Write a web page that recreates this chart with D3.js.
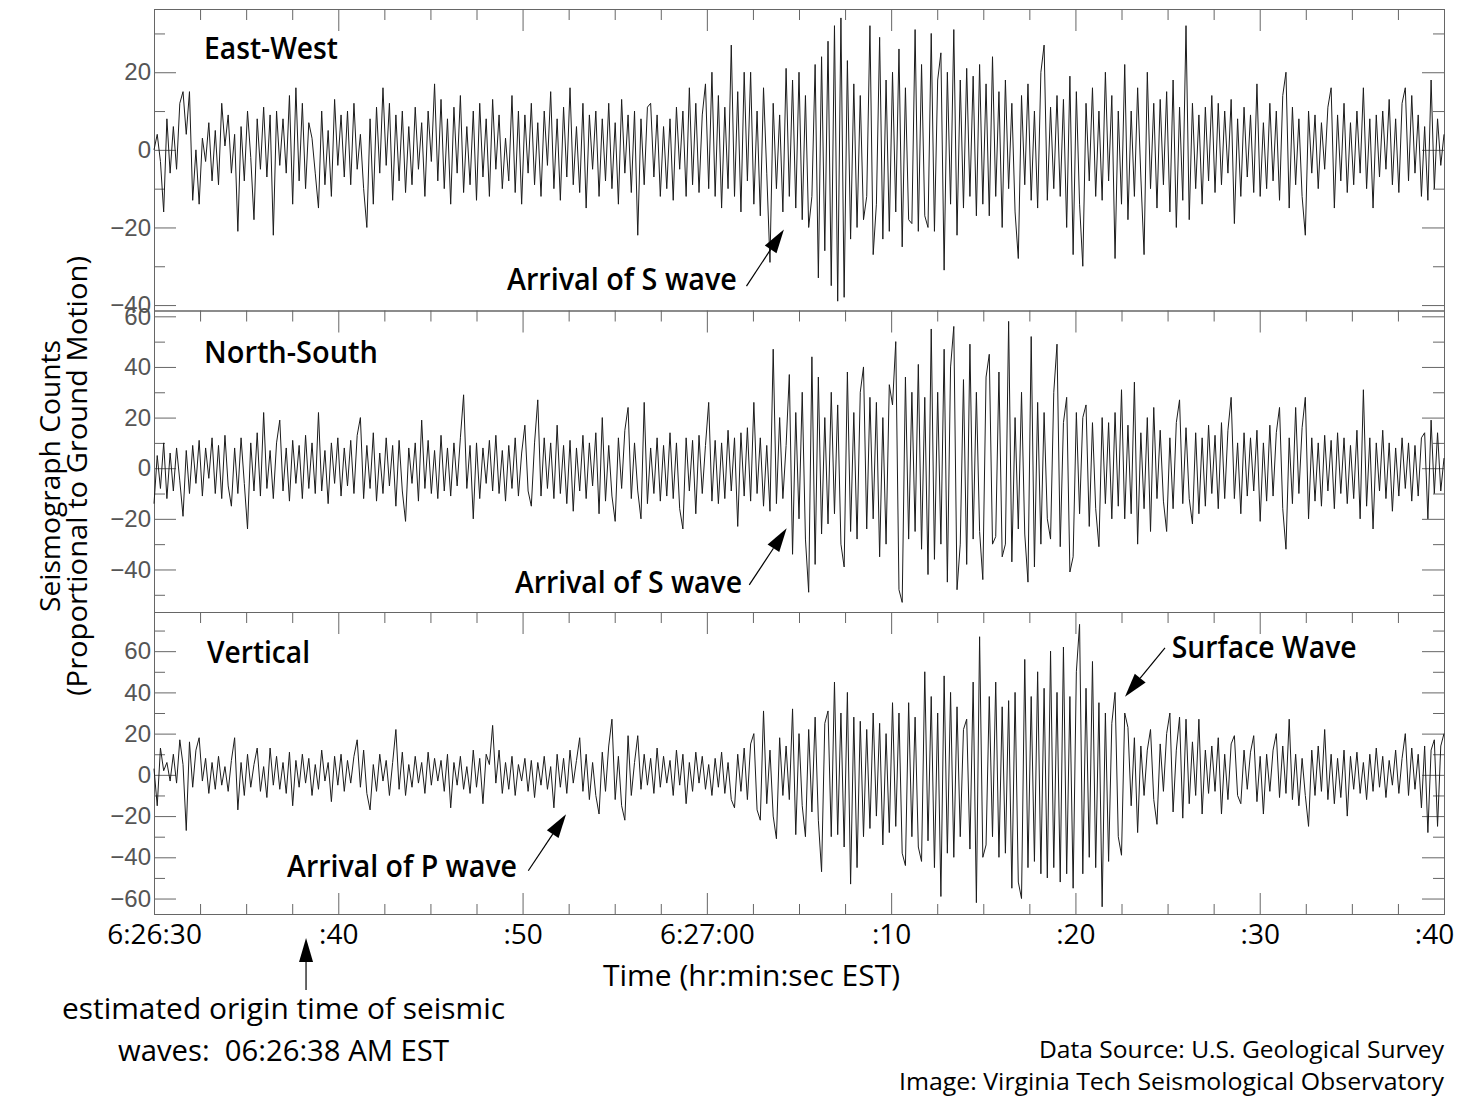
<!DOCTYPE html>
<html>
<head>
<meta charset="utf-8">
<script src="https://cdn.jsdelivr.net/npm/d3@7"></script>
<style>
body { margin: 0; background: #fff; }
svg { display: block; background: #fff; }
.ylab text { font-family: "Liberation Sans Narrow", "Liberation Sans", sans-serif; font-size: 24px; fill: #555; }
.xlab text { font-family: "Open Sans", sans-serif; font-size: 28px; font-weight: 500; fill: #000; }
.note { font-family: "Open Sans", sans-serif; font-weight: 600; fill: #000; }
.plain { font-family: "Open Sans", sans-serif; fill: #000; }
</style>
</head>
<body>
<svg id="chart" width="1467" height="1097"></svg>
<script>
// seconds after 6:26:30 EST
var timeTicks = [0, 10, 20, 30, 40, 50, 60, 70];
var timeLabels = ["6:26:30", ":40", ":50", "6:27:00", ":10", ":20", ":30", ":40"];
var sampleStep = 0.175;   // s between samples

var panelNames = ["East-West", "North-South", "Vertical"];
var yDomains = [[-41.4, 36.3], [-56.8, 62.3], [-67.5, 79]];
var yMajor = [[-40, -20, 0, 20], [-40, -20, 0, 20, 40, 60], [-60, -40, -20, 0, 20, 40, 60]];
var yMinor = [[-30, -10, 10, 30], [-50, -30, -10, 10, 30, 50], [-50, -30, -10, 10, 30, 50, 70]];

var eastWest = [
0,4,-3,-16,8,-6,6,-5,12,15,4,15,-13,0,-14,3,-3,7,-8,5,
-9,12,1,9,-6,4,-21,6,-8,10,-2,-18,8,-5,11,-7,9,-22,10,-4,
8,-6,14,-14,16,-8,12,-10,7,3,-6,-15,10,-9,5,-12,13,-4,9,-7,
10,-9,12,-5,4,-10,-20,8,-14,11,-6,16,-4,12,-13,9,-8,10,-11,6,
-9,11,-5,7,-12,10,-3,17,-8,13,-10,8,-14,11,-6,14,-11,6,-9,10,
-13,12,-7,8,-12,13,-5,9,-10,3,-8,14,-11,10,-14,9,-6,12,-9,7,
-12,10,-4,15,-10,8,-13,11,-7,16,-9,6,-11,12,-15,9,-5,10,-12,8,
-8,12,-10,7,-14,13,-6,9,-11,10,-22,8,-9,11,12,-7,9,-12,6,-10,
8,-13,11,-5,10,-12,16,-9,12,-11,9,17,-10,20,-12,14,-15,11,-10,27,
-12,15,-16,20,-8,20,-14,10,-17,16,-6,-29,12,-10,9,-16,21,-12,18,-15,
20,-18,14,-20,-12,22,-33,24,-26,28,-35,32,-39,34,-38,23,-23,17,-20,14,
-18,-12,32,-27,-14,29,-23,18,-21,20,-16,26,-25,16,-18,-19,31,-21,22,-17,
-20,30,-21,18,25,-31,20,-14,31,-22,18,-15,21,-12,19,-17,22,-14,17,-17,
24,-12,15,-20,18,-10,12,-16,-28,14,-9,17,-13,10,-15,20,27,-13,11,-10,
14,-12,13,-20,19,-27,15,-14,-30,12,-8,16,-12,10,-13,20,-8,14,-28,10,
-14,22,-18,10,-12,16,-7,-27,20,-10,12,-15,13,-9,15,-16,18,-20,11,-13,
32,-18,12,-10,9,-14,11,-8,14,-11,12,-9,10,-6,13,-19,8,-12,11,-7,
9,-11,17,-12,7,-10,12,-8,10,-13,14,20,-15,11,-9,8,-12,-22,10,-6,
9,-10,7,-5,11,16,-15,9,-8,12,-11,7,-9,10,-6,16,-10,8,-15,9,
-7,10,-5,13,-9,8,-11,12,16,-8,14,-6,9,-12,6,-13,18,-10,8,-4,
4];

var northSouth = [
-14,5,-8,10,-12,6,-9,8,-5,-19,7,-10,9,-6,11,-11,8,-4,12,-10,
9,-12,13,-7,-15,8,-10,12,-6,-24,10,-9,14,-11,22,-8,7,-12,10,19,
-9,8,-13,11,-6,9,-12,13,-8,10,-10,22,-9,7,-14,10,-6,12,-11,8,
-7,11,-10,13,20,-12,9,-8,14,-13,6,-10,12,-7,9,-15,11,-9,-21,8,
-6,10,-13,19,-8,11,-10,7,-12,13,-9,8,-11,10,-7,12,29,-8,9,-20,
10,-12,8,-6,11,-9,13,-10,7,-13,9,-8,12,-11,6,17,-9,-15,10,27,
-11,12,-8,10,-12,17,-10,9,-14,11,-17,8,-9,13,-12,10,-7,14,-18,20,
-13,9,-11,-21,12,-8,15,24,-12,10,-9,-20,26,-14,8,-10,12,-13,9,-11,
14,-12,10,-16,-24,12,-9,11,-18,13,-10,9,26,-13,11,-14,10,-12,15,-9,
12,-23,14,-11,16,-13,26,-10,12,-15,9,-17,47,-14,20,-12,9,37,-34,22,
-20,30,-28,-49,44,-38,36,-26,20,-22,30,-18,25,-30,-39,38,-25,22,-28,30,
40,-24,28,-20,26,-35,20,-30,33,25,50,-48,-53,36,-28,30,-25,41,-32,28,
-42,55,-36,30,-30,47,-45,40,56,-48,-30,35,-38,49,-28,30,-25,-44,36,45,
-30,-27,38,-35,-30,58,-37,20,-24,30,-26,-45,52,-39,26,-30,22,-20,-28,30,
49,-31,18,28,-41,-35,22,-18,20,25,-23,18,-16,-31,20,-14,18,-20,22,-15,
31,-20,17,-18,34,-30,14,-16,20,-25,24,-12,15,-13,-25,12,-16,18,27,-14,
16,-12,-22,14,-18,12,-15,17,-10,13,-16,18,-12,15,28,-12,10,-18,14,-11,
12,-9,15,-21,10,-13,17,-11,14,24,-16,-32,12,-14,24,-10,16,28,-20,12,
-13,10,-15,13,-9,11,-16,14,-10,12,-14,9,-12,15,-20,31,-15,12,-24,10,
-9,15,-12,10,-17,8,-11,12,-8,10,-13,9,-11,12,14,-20,19,-10,14,-9,
4];

var vertical = [
3,-15,13,2,6,-3,10,-4,17,5,-27,16,-6,12,18,-3,8,-9,6,-7,
9,-5,4,-8,7,18,-17,6,-10,10,-6,5,13,-8,4,-11,13,-5,9,-7,
6,-9,11,-15,7,-6,10,-4,8,-10,5,-7,12,-3,6,-13,9,-5,10,-8,
7,-4,9,17,-6,12,-9,-17,5,-8,10,-3,7,-10,6,22,-7,11,-10,5,
-6,9,-4,6,-9,11,-5,8,-3,7,-8,10,-16,6,-5,9,-7,4,-9,12,
-6,8,-14,10,5,24,-4,12,-9,6,-7,9,-10,5,-3,8,-8,7,-11,6,
-5,9,-7,4,-16,10,-6,8,-9,12,-4,7,18,-8,10,-12,6,-10,-19,11,
-8,14,27,-12,9,-15,-22,19,-10,6,19,-7,10,-5,8,-9,13,-6,9,-4,
7,-10,12,-5,10,-14,6,-8,11,-4,9,-7,5,-10,8,-6,11,-9,6,-12,
-16,10,-8,13,-12,15,20,-17,-22,31,-14,12,-20,-31,18,-10,14,-12,32,-29,
20,-15,-30,22,-18,28,-22,-47,25,31,-30,45,-29,30,-35,40,-53,28,-45,26,
-30,22,-26,30,-20,25,-34,20,-28,35,-25,30,-38,-44,35,-30,28,-35,-42,50,
-32,38,-45,30,-59,48,-38,40,-40,33,-30,22,27,-36,45,-62,67,-40,-34,38,
-30,45,-40,33,-38,36,-55,40,-52,-60,56,-45,38,-42,50,-48,42,-50,60,-45,
40,-52,62,-48,38,-55,50,73,-48,42,-40,55,-45,35,-64,30,-42,25,40,-30,
-39,30,23,-15,18,-28,14,-10,12,22,-12,-24,15,-8,20,30,-18,12,28,-21,
27,-14,16,-10,27,-19,12,-9,14,-8,18,-19,10,-12,15,19,-10,-14,12,-7,
11,19,-13,9,-19,10,-8,12,20,-11,14,-9,27,-12,10,-15,8,-10,-25,12,
-10,14,-8,22,-12,10,-14,8,-11,12,-20,9,-7,11,-9,6,-12,10,-8,13,
-6,9,-11,7,-5,12,-9,8,20,-10,13,-7,10,-16,14,-28,12,17,-25,14,
20];

var traces = [eastWest, northSouth, vertical];

// annotation text position and arrow (time in s, value in counts)
var notes = [
  {panel: 0, text: "Arrival of S wave", t: 19.15, v: -36.2, len: 230, from: [32.15, -35.1], to: [34.18, -20.5]},
  {panel: 1, text: "Arrival of S wave", t: 19.59, v: -49.2, len: 227, from: [32.3, -46.1], to: [34.33, -23.7]},
  {panel: 2, text: "Arrival of P wave", t: 7.22, v: -49.4, len: 230, from: [20.31, -46.5], to: [22.36, -19.1]},
  {panel: 2, text: "Surface Wave", t: 55.22, v: 56.6, len: 185, from: [54.86, 61.6], to: [52.69, 37.9]}
];
var originTime = 8.25;

var svg = d3.select("#chart");
var left = 154, right = 1444;
var panelTop = [9, 310.5, 612];
var panelBottom = [310.5, 612, 914];
var axisColor = "#666";

var x = d3.scaleLinear().domain([timeTicks[0], timeTicks[timeTicks.length - 1]]).range([left, right]);
var minorTime = d3.range(timeTicks[0], timeTicks[timeTicks.length - 1] + 0.01, 2.5).filter(function(d){ return d % 10 != 0; });
var yScales = [];

function styleAxis(g){
  g.select(".domain").remove();
  g.selectAll("line").attr("stroke", axisColor).attr("stroke-width", 1);
}

function arrow(x1, y1, x2, y2){
  var dx = x2 - x1, dy = y2 - y1, L = Math.sqrt(dx*dx + dy*dy);
  var ux = dx / L, uy = dy / L, head = 24, half = 7;
  var bx = x2 - ux*head, by = y2 - uy*head;
  svg.append("line").attr("x1", x1).attr("y1", y1).attr("x2", bx).attr("y2", by)
    .attr("stroke", "#000").attr("stroke-width", 1.2);
  svg.append("path")
    .attr("d", "M" + x2 + "," + y2 + "L" + (bx - uy*half) + "," + (by + ux*half) + "L" + (bx + uy*half) + "," + (by - ux*half) + "Z")
    .attr("fill", "#000");
}

for (var p = 0; p < 3; p++) {
  var y = d3.scaleLinear().domain(yDomains[p]).range([panelBottom[p], panelTop[p]]);
  yScales.push(y);
  var g = svg.append("g");

  g.append("rect").attr("x", left + 0.5).attr("y", panelTop[p] + 0.5)
    .attr("width", right - left).attr("height", panelBottom[p] - panelTop[p])
    .attr("fill", "none").attr("stroke", axisColor).attr("stroke-width", 1);

  g.append("g").attr("class", "ylab").attr("transform", "translate(" + left + ",0)")
    .call(d3.axisLeft(y).tickValues(yMajor[p]).tickSizeInner(-22).tickSizeOuter(0).tickPadding(3).tickFormat(d3.format("d")))
    .call(styleAxis);
  g.append("g").attr("transform", "translate(" + left + ",0)")
    .call(d3.axisLeft(y).tickValues(yMinor[p]).tickSizeInner(-11).tickSizeOuter(0).tickFormat(""))
    .call(styleAxis);
  g.append("g").attr("transform", "translate(" + right + ",0)")
    .call(d3.axisRight(y).tickValues(yMajor[p]).tickSizeInner(-22).tickSizeOuter(0).tickFormat(""))
    .call(styleAxis);
  g.append("g").attr("transform", "translate(" + right + ",0)")
    .call(d3.axisRight(y).tickValues(yMinor[p]).tickSizeInner(-11).tickSizeOuter(0).tickFormat(""))
    .call(styleAxis);

  g.append("g").attr("transform", "translate(0," + panelTop[p] + ")")
    .call(d3.axisBottom(x).tickValues(timeTicks).tickSizeInner(22).tickSizeOuter(0).tickFormat(""))
    .call(styleAxis);
  g.append("g").attr("transform", "translate(0," + panelTop[p] + ")")
    .call(d3.axisBottom(x).tickValues(minorTime).tickSizeInner(11).tickSizeOuter(0).tickFormat(""))
    .call(styleAxis);

  var line = d3.line()
    .x(function(d, i){ return x(i * sampleStep); })
    .y(function(d){ return y(d); });
  g.append("path").datum(traces[p])
    .attr("d", line)
    .attr("fill", "none")
    .attr("stroke", "#1c1c1c")
    .attr("stroke-width", 1)
    .attr("stroke-linejoin", "miter");
}

// panel names
var nameX = [204, 204, 207], nameY = [59, 363, 663], nameLen = [134, 174, 103];
for (var k = 0; k < 3; k++) {
  svg.append("text").attr("class", "note").attr("x", nameX[k]).attr("y", nameY[k])
    .attr("font-size", 30).attr("textLength", nameLen[k]).attr("lengthAdjust", "spacingAndGlyphs")
    .text(panelNames[k]);
}

// bottom time axis
var bottom = svg.append("g").attr("class", "xlab").attr("transform", "translate(0," + panelBottom[2] + ")")
  .call(d3.axisBottom(x).tickValues(timeTicks).tickSizeInner(-21).tickSizeOuter(0).tickPadding(10)
    .tickFormat(function(d, i){ return timeLabels[i]; }))
  .call(styleAxis);
bottom.selectAll("text").filter(function(d, i){ return i == timeTicks.length - 1; }).attr("dx", -10);
svg.append("g").attr("transform", "translate(0," + panelBottom[2] + ")")
  .call(d3.axisBottom(x).tickValues(minorTime).tickSizeInner(-10).tickSizeOuter(0).tickFormat(""))
  .call(styleAxis);

svg.append("text").attr("class", "plain").attr("x", 603).attr("y", 986)
  .attr("font-size", 29).attr("font-weight", 500).attr("textLength", 297).attr("lengthAdjust", "spacingAndGlyphs")
  .text("Time (hr:min:sec EST)");

// y title
var ty = svg.append("g").attr("transform", "translate(60,476) rotate(-90)");
ty.append("text").attr("class", "plain").attr("text-anchor", "middle").attr("font-size", 28).attr("font-weight", 500)
  .attr("textLength", 272).attr("lengthAdjust", "spacingAndGlyphs").text("Seismograph Counts");
ty.append("text").attr("class", "plain").attr("text-anchor", "middle").attr("font-size", 28).attr("font-weight", 500)
  .attr("y", 27).attr("textLength", 440).attr("lengthAdjust", "spacingAndGlyphs").text("(Proportional to Ground Motion)");

// annotations
notes.forEach(function(n){
  var y = yScales[n.panel];
  svg.append("text").attr("class", "note").attr("x", x(n.t)).attr("y", y(n.v))
    .attr("font-size", 30).attr("textLength", n.len).attr("lengthAdjust", "spacingAndGlyphs")
    .text(n.text);
  arrow(x(n.from[0]), y(n.from[1]), x(n.to[0]), y(n.to[1]));
});

// origin time marker
arrow(x(originTime), 990, x(originTime), 938);
svg.append("text").attr("class", "plain").attr("x", 62).attr("y", 1019)
  .attr("font-size", 29).attr("font-weight", 500).attr("textLength", 443).attr("lengthAdjust", "spacingAndGlyphs")
  .text("estimated origin time of seismic");
svg.append("text").attr("class", "plain").attr("x", 118).attr("y", 1061)
  .attr("font-size", 29).attr("font-weight", 500).attr("textLength", 331).attr("lengthAdjust", "spacingAndGlyphs")
  .text("waves:\u00a0 06:26:38 AM EST");

// credits
svg.append("text").attr("class", "plain").attr("x", right).attr("y", 1058).attr("text-anchor", "end")
  .attr("font-size", 24).attr("font-weight", 500).attr("textLength", 405).attr("lengthAdjust", "spacingAndGlyphs")
  .text("Data Source: U.S. Geological Survey");
svg.append("text").attr("class", "plain").attr("x", right).attr("y", 1090).attr("text-anchor", "end")
  .attr("font-size", 24).attr("font-weight", 500).attr("textLength", 545).attr("lengthAdjust", "spacingAndGlyphs")
  .text("Image: Virginia Tech Seismological Observatory");
</script>
</body>
</html>
